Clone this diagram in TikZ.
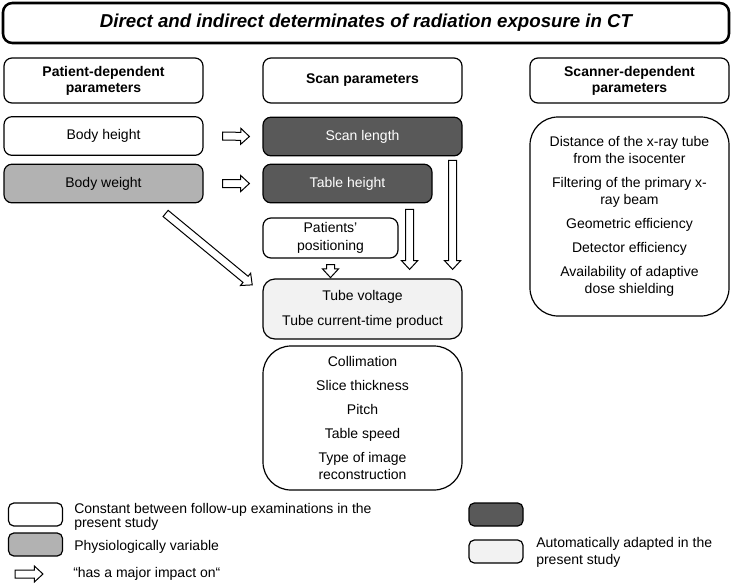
\documentclass[tikz,border=0pt]{standalone}
\usepackage{fontspec}
\setmainfont{Liberation Sans}
\usetikzlibrary{positioning,calc}

\definecolor{scandark}{HTML}{595959}
\definecolor{bodygray}{HTML}{B2B2B2}
\definecolor{autolight}{HTML}{F2F2F2}

\begin{document}
\begin{tikzpicture}[x=0.75pt, y=-0.75pt, line join=round,
    every node/.style={font=\fontsize{10.5}{12.75}\selectfont},
    box/.style={draw, line width=0.9pt, rounded corners=6pt, align=center,
      inner sep=0pt, minimum width=149.25pt},
    head/.style={box, minimum height=33.75pt,
      font=\fontsize{10.5}{12}\selectfont\bfseries},
    param/.style={box, minimum height=29pt},
    legbox/.style={draw, line width=0.9pt, rounded corners=4pt,
      minimum width=40.5pt, minimum height=17.25pt, inner sep=0pt},
    legtext/.style={anchor=west, align=left, inner sep=0pt,
      font=\fontsize{10.5}{9.5}\selectfont},
    impact/.style={draw, fill=white, line width=0.75pt, line join=miter,
      to path={let \p1=(\tikztostart), \p2=(\tikztotarget),
        \n1={atan2(\y2-\y1,\x2-\x1)}, \n2={veclen(\x2-\x1,\y2-\y1)-6.5pt},
        \n3={\n2+6.5pt} in
        [shift={(\p1)}, rotate=\n1]
        (0pt,3pt) -- (\n2,3pt) -- (\n2,6pt) -- (\n3,0pt)
        -- (\n2,-6pt) -- (\n2,-3pt) -- (0pt,-3pt) -- cycle}}]

\useasboundingbox (0,0) rectangle (733,587);

% title and column heads
\node[box, line width=1.9pt, rounded corners=7pt, minimum width=544.5pt,
  minimum height=30pt, font=\fontsize{14}{16}\selectfont\bfseries\itshape]
  (title) at (366,23) {Direct and indirect determinates of radiation exposure in CT};
\node[head] (pdp) at (103.5,80.5) {Patient-dependent\\parameters};
\node[head] (scp) at (362.5,80.5) {Scan parameters};
\node[head] (sdp) at (629.5,80.5) {Scanner-dependent\\parameters};

% patient column
\node[param] (bh) at (103.5,136) {Body height};
\node[param, fill=bodygray] (bw) at (103.5,183.5) {Body weight};

% scan column
\node[param, fill=scandark, text=white] (sl) at (362.5,136.5) {Scan length};
\node[param, fill=scandark, text=white, minimum width=126.75pt] (th) at (347.5,183.5) {Table height};
\node[box, minimum width=101.25pt, minimum height=30pt,
  font=\fontsize{10.5}{13.5}\selectfont] (pos) at (330.5,238) {Patients’\\positioning};
\node[box, fill=autolight, rounded corners=9pt, minimum height=45pt]
  (tube) at (362.5,309) {Tube voltage\\[6pt]Tube current-time product};
\node[box, rounded corners=21pt, minimum height=108pt] (rec) at (362.5,418)
  {Collimation\\[5.25pt]Slice thickness\\[5.25pt]Pitch\\[5.25pt]Table speed\\[5.25pt]Type of image\\reconstruction};

% scanner column
\node[box, rounded corners=21pt, minimum height=149.25pt] (scn) at (629.5,216.5)
  {Distance of the x-ray tube\\from the isocenter\\[5.25pt]Filtering of the primary x-\\ray beam\\[5.25pt]Geometric efficiency\\[5.25pt]Detector efficiency\\[5.25pt]Availability of adaptive\\dose shielding};

% impact arrows
\coordinate (bh1) at ($(bh.east)+(19,0)$);
\coordinate (bh2) at ($(sl.west)+(-13,0)$);
\coordinate (bw1) at ($(bw.east)+(19,0)$);
\coordinate (bw2) at ($(th.west)+(-13,0)$);
\coordinate (bw3) at ($(bw.south east)+(-38,10)$);
\coordinate (bw4) at ($(tube.west)+(-10,-24)$);
\coordinate (po1) at ($(pos.south)+(0,6)$);
\coordinate (po2) at ($(pos.south)+(0,19)$);
\coordinate (th1) at ($(th.south east)+(-23,6)$);
\coordinate (th2) at ($(tube.north east)+(-53,-9)$);
\coordinate (sl1) at ($(sl.south east)+(-10,4)$);
\coordinate (sl2) at ($(tube.north east)+(-10,-9)$);

\draw[impact] (bh1) to (bh2);
\draw[impact] (bw1) to (bw2);
\draw[impact] (bw3) to (bw4);
\draw[impact] (po1) to (po2);
\draw[impact] (th1) to (th2);
\draw[impact] (sl1) to (sl2);

% legend
\node[legbox] (lg1) at (35.5,514.5) {};
\node[legbox, fill=bodygray] (lg2) at (35.5,544.5) {};
\node[legbox, fill=scandark] (lg3) at (496,514.5) {};
\node[legbox, fill=autolight] (lg4) at (496,551.5) {};
\coordinate (lga) at (15,574);
\coordinate (lgb) at (43,574);
\draw[impact] (lga) to (lgb);

\node[legtext] (lt1) at (74,517) {Constant between follow-up examinations in the\\present study};
\node[legtext] (lt2) at (74,547) {Physiologically variable};
\node[legtext] (lt3) at (73,574) {“has a major impact on“};
\node[legtext, font=\fontsize{10.5}{12.75}\selectfont] (lt4) at (536,552) {Automatically adapted in the\\present study};
\end{tikzpicture}
\end{document}
